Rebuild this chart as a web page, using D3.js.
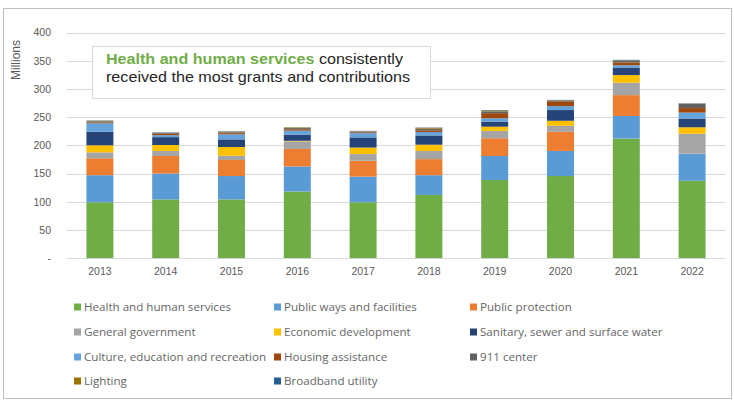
<!DOCTYPE html>
<html>
<head>
<meta charset="utf-8">
<script src="https://cdn.jsdelivr.net/npm/d3@7/dist/d3.min.js"></script>
<style>
  html, body { margin: 0; padding: 0; background: #fff; }
  svg { display: block; }
</style>
</head>
<body>
<svg id="chart" width="734" height="401"></svg>
<script>
// Grants and contributions by function, in millions
const years = ["2013", "2014", "2015", "2016", "2017", "2018", "2019", "2020", "2021", "2022"];

const seriesNames = [
  "Health and human services", "Public ways and facilities", "Public protection",
  "General government", "Economic development", "Sanitary, sewer and surface water",
  "Culture, education and recreation", "Housing assistance", "911 center",
  "Lighting", "Broadband utility"
];

const health      = [99, 104, 104, 118, 99, 112, 138.5, 145.5, 212, 137];
const publicWays  = [48, 46, 41.5, 44.5, 45.5, 35, 42.5, 44.5, 40, 48];
const protection  = [30, 31, 28.5, 31, 28, 28.5, 31.5, 34, 37, 0.5];
const government  = [10.5, 9, 7.5, 13.5, 12, 14.5, 13, 10.5, 22, 35];
const economic    = [12.5, 10.5, 15.5, 1, 11.5, 11, 7.5, 9, 13.5, 11.5];
const sanitary    = [24, 14, 13.5, 11, 18, 16.5, 9, 19, 13.5, 15.5];
const culture     = [15, 3.5, 9, 7, 7.5, 6, 6, 7, 4, 10.5];
const housing     = [1.5, 2.5, 2, 2.5, 1.5, 3, 9, 8.5, 5, 8];
const center911   = [2, 1.5, 1.5, 2, 1.5, 3, 3, 1.5, 2.5, 7.5];
const lighting    = [1, 0.5, 1, 1, 0.5, 1.5, 1.5, 0.5, 1, 0.5];
const broadband   = [0.5, 0.5, 0.8, 0.3, 0.5, 0.5, 1, 0.5, 1, 0.5];

const yTicks = [0, 50, 100, 150, 200, 250, 300, 350, 400];

const colors = ["#70AD47", "#5B9BD5", "#ED7D31", "#A5A5A5", "#FFC000", "#264478",
                "#64A3DB", "#9E480E", "#636363", "#997300", "#255E91"];

const seriesValues = [health, publicWays, protection, government, economic, sanitary,
                      culture, housing, center911, lighting, broadband];

// Row-wise table for d3.stack
const table = years.map((y, i) => {
  const row = { year: y };
  seriesNames.forEach((n, k) => { row[n] = seriesValues[k][i]; });
  return row;
});

const svg = d3.select("#chart");

// Outer frame
svg.append("rect")
  .attr("x", 3.5).attr("y", 8.5).attr("width", 728).attr("height", 390)
  .attr("fill", "#fff").attr("stroke", "#bfbfbf").attr("stroke-width", 1);

const plot = { left: 67, right: 725, top: 32.5, bottom: 258.1 };

const x = d3.scaleBand().domain(years).range([plot.left, plot.right]).paddingInner(0.59).paddingOuter(0.295);
const y = d3.scaleLinear().domain([0, 400]).range([plot.bottom, plot.top]);

// Gridlines
svg.append("g")
  .selectAll("line").data(yTicks).join("line")
  .attr("x1", plot.left).attr("x2", plot.right)
  .attr("y1", d => Math.round(y(d)) + 0.5).attr("y2", d => Math.round(y(d)) + 0.5)
  .attr("stroke", "#d9d9d9").attr("stroke-width", 1);

// Y axis labels
const yAxis = d3.axisLeft(y).tickValues(yTicks).tickSize(0).tickPadding(0)
  .tickFormat(d => d === 0 ? "-" : d3.format("d")(d));
const gy = svg.append("g").attr("transform", "translate(51,0)").call(yAxis);
gy.select(".domain").remove();
gy.selectAll("text").attr("fill", "#595959").style("font-family", "Liberation Sans, Arial, sans-serif").style("font-size", "10.5px");

// Y axis title
svg.append("text")
  .attr("transform", "translate(20,60) rotate(-90)")
  .attr("text-anchor", "middle")
  .attr("fill", "#595959")
  .style("font-family", "Liberation Sans, Arial, sans-serif")
  .style("font-size", "12px")
  .text("Millions");

// Stacked bars
const stack = d3.stack().keys(seriesNames)(table);
svg.append("g")
  .selectAll("g").data(stack).join("g")
  .attr("fill", (d, i) => colors[i])
  .selectAll("rect").data(d => d).join("rect")
  .attr("x", d => x(d.data.year))
  .attr("width", x.bandwidth())
  .attr("y", d => y(d[1]))
  .attr("height", d => Math.max(0, y(d[0]) - y(d[1])));

// X axis labels
const xAxis = d3.axisBottom(x).tickSize(0).tickPadding(0);
const gx = svg.append("g").attr("transform", `translate(0,${plot.bottom + 9})`).call(xAxis);
gx.select(".domain").remove();
gx.selectAll("text").attr("fill", "#595959").style("font-family", "Liberation Sans, Arial, sans-serif").style("font-size", "10.5px");

// Annotation box
svg.append("rect")
  .attr("x", 92.5).attr("y", 46.5).attr("width", 338).attr("height", 52)
  .attr("fill", "#fff").attr("stroke", "#d9d9d9").attr("stroke-width", 1);
const note = svg.append("text")
  .attr("x", 106).attr("y", 64)
  .attr("textLength", 297).attr("lengthAdjust", "spacingAndGlyphs")
  .style("font-family", "Liberation Sans, Arial, sans-serif")
  .style("font-size", "15px")
  .attr("fill", "#262626");
note.append("tspan").attr("fill", "#70AD47").style("font-weight", "bold").text("Health and human services");
note.append("tspan").text(" consistently");
svg.append("text")
  .attr("x", 106).attr("y", 81.5)
  .attr("textLength", 304).attr("lengthAdjust", "spacingAndGlyphs")
  .style("font-family", "Liberation Sans, Arial, sans-serif")
  .style("font-size", "15px")
  .attr("fill", "#262626")
  .text("received the most grants and contributions");

// Legend
const legendCols = [74, 274, 470];
const legendRows = [307, 332, 357, 381];
const legend = svg.append("g");
seriesNames.forEach((name, i) => {
  const cx = legendCols[i % 3];
  const cy = legendRows[Math.floor(i / 3)];
  legend.append("rect").attr("x", cx).attr("y", cy - 3.5).attr("width", 7).attr("height", 7).attr("fill", colors[i]);
  legend.append("text")
    .attr("x", cx + 10).attr("y", cy).attr("dy", "0.35em")
    .attr("fill", "#666666")
    .style("font-family", "Open Sans, sans-serif")
    .style("font-size", "11.6px")
    .text(name);
});
</script>
</body>
</html>
